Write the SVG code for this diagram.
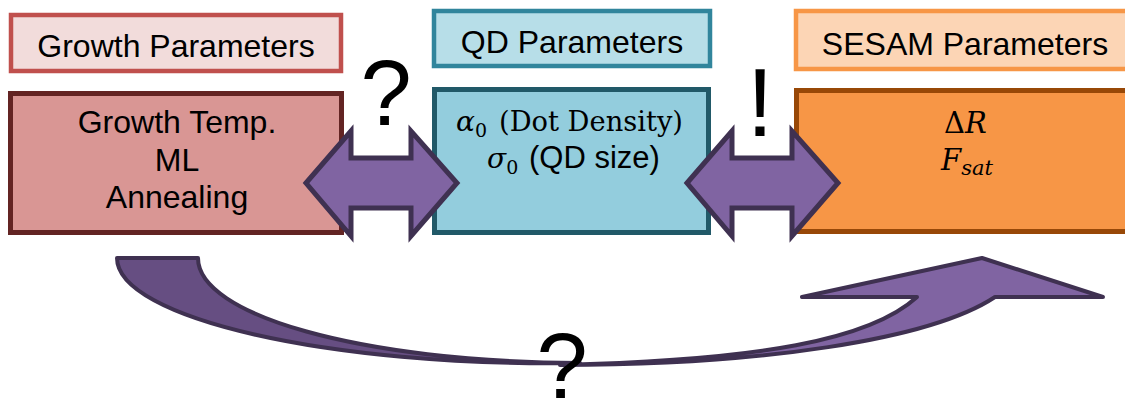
<svg xmlns="http://www.w3.org/2000/svg" width="1125" height="401" viewBox="0 0 1125 401">
  <style>
    .sans { font-family: "Liberation Sans", Arial, sans-serif; fill: #000; }
    .math { font-family: "DejaVu Serif", "Liberation Serif", serif; fill: #000; }
    .arrow { fill: #8064A2; stroke: #3F3151; stroke-width: 5; stroke-linejoin: miter; }
    .curve { stroke: #3F3151; stroke-width: 4; stroke-linejoin: round; }
  </style>
  <rect width="1125" height="401" fill="#ffffff"/>

  <g id="growth-header">
    <rect x="11" y="15" width="330" height="56" fill="#F2DCDB" stroke="#C0504D" stroke-width="4.5"/>
    <text class="sans" x="176" y="57" font-size="32" text-anchor="middle">Growth Parameters</text>
  </g>
  <g id="growth-box">
    <rect x="10.5" y="93.5" width="331" height="139" fill="#D99694" stroke="#632423" stroke-width="5"/>
    <text class="sans" x="177" y="133" font-size="32" text-anchor="middle">Growth Temp.</text>
    <text class="sans" x="177" y="171" font-size="32" text-anchor="middle">ML</text>
    <text class="sans" x="177" y="208" font-size="32" text-anchor="middle">Annealing</text>
  </g>

  <g id="qd-header">
    <rect x="434" y="11" width="276" height="55" fill="#B7DEE8" stroke="#31859C" stroke-width="4.5"/>
    <text class="sans" x="572" y="53" font-size="32" text-anchor="middle">QD Parameters</text>
  </g>
  <g id="qd-box">
    <rect x="434.5" y="89.5" width="274" height="143" fill="#93CDDD" stroke="#215968" stroke-width="5"/>
    <text class="math" x="456" y="131" font-size="28"><tspan font-style="italic">α</tspan><tspan font-size="19" dy="6">0</tspan><tspan dy="-6" x="499" textLength="184" lengthAdjust="spacingAndGlyphs">(Dot Density)</tspan></text>
    <text class="math" x="487" y="168" font-size="28"><tspan font-style="italic">σ</tspan><tspan font-size="19" dy="6">0</tspan></text>
    <text class="sans" x="529" y="168" font-size="31">(QD size)</text>
  </g>

  <g id="sesam-header">
    <rect x="796" y="11" width="340" height="58" fill="#FCD5B5" stroke="#F79646" stroke-width="4.5"/>
    <text class="sans" x="965" y="55" font-size="32" text-anchor="middle">SESAM Parameters</text>
  </g>
  <g id="sesam-box">
    <rect x="796.5" y="90.5" width="340" height="141" fill="#F79646" stroke="#984807" stroke-width="5"/>
    <text class="math" x="944" y="133" font-size="29">Δ<tspan font-style="italic">R</tspan></text>
    <text class="math" x="941" y="170" font-size="29" font-style="italic">F<tspan font-size="21" dy="5">sat</tspan></text>
  </g>

  <g id="connectors">
    <path class="arrow" d="M306,183 L351,131 L351,158 L411,158 L411,131 L457,183 L411,236 L411,208 L351,208 L351,236 Z"/>
    <path class="arrow" d="M687,183 L732,131 L732,158 L792,158 L792,131 L838,183 L792,236 L792,208 L732,208 L732,236 Z"/>
    <path class="curve" fill="#664E82" d="M117,258 L198,258 C198,315 360,362 580,363 C 329,367 117,318 117,258 Z"/>
    <path class="curve" fill="#8064A2" d="M560,365 C760,365 930,340 995,297 L1103,297 L982,258 L802,297 L917,297 C870,340 760,360 560,365 Z"/>
  </g>

  <g id="labels">
    <text class="sans" x="386" y="125" font-size="92" text-anchor="middle">?</text>
    <text class="sans" x="760" y="136" font-size="96" text-anchor="middle">!</text>
    <text class="sans" x="562" y="398" font-size="92" text-anchor="middle">?</text>
  </g>
</svg>
